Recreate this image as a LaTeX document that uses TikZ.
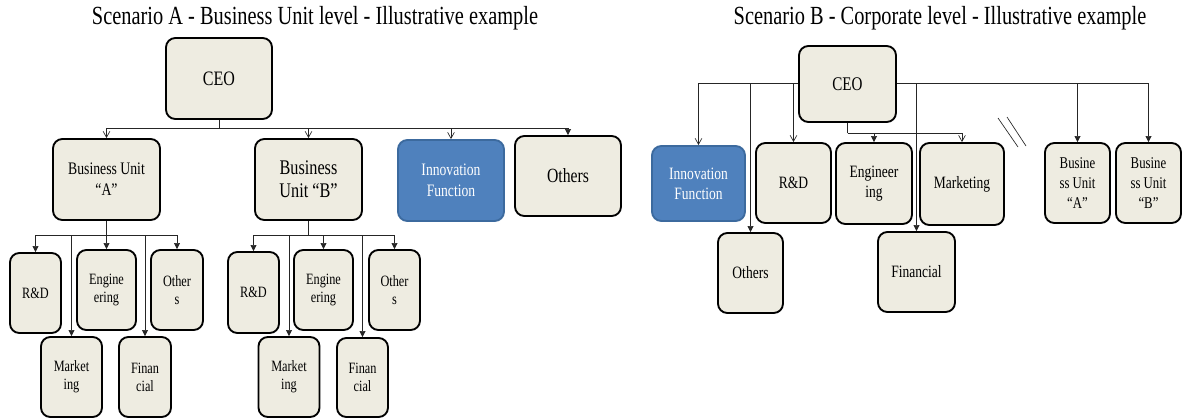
\documentclass[tikz,border=0pt]{standalone}
\usepackage{fontspec}
\setmainfont{Liberation Serif}[FakeStretch=0.78]
\usetikzlibrary{arrows.meta}
\definecolor{boxfill}{HTML}{EEECE1}
\definecolor{innofill}{HTML}{4F81BD}
\definecolor{innoline}{HTML}{3C6A9E}
\newcommand{\fsz}[2]{\fontsize{#1}{#2}\selectfont}

\begin{document}
\begin{tikzpicture}[x=0.75pt,y=-0.75pt,
    orgbox/.style={draw=black,line width=1.4pt,fill=boxfill,rounded corners=7pt,
      align=center,inner sep=0pt,text=black},
    innobox/.style={orgbox,draw=innoline,fill=innofill,text=white},
    sz/.style 2 args={minimum width=#1*0.75pt,minimum height=#2*0.75pt},
    small/.style={font=\fsz{11.8}{13.5}},
    mid/.style={font=\fsz{13}{15}},
    heading/.style={font=\fsz{19.6}{22}},
    link/.style={line width=0.5pt,draw=black!85},
    opentip/.style={link,-{Straight Barb[length=4.5pt,width=5pt]}},
    filltip/.style={link,-{Triangle[length=4.5pt,width=4.5pt]}}]
    \useasboundingbox (0,0) rectangle (1182,418);

    % Scenario A
    \node [heading] (titleA) at (315,18) {Scenario A - Business Unit level - Illustrative example};
    \node [orgbox,sz={106}{81},font=\fsz{15.4}{18}] (ceoA) at (219,78.5) {CEO};
    \node [orgbox,sz={107}{81},font=\fsz{13.2}{15.8}] (buA) at (106.5,179.5) {Business Unit\\``A''};
    \node [orgbox,sz={107}{81},font=\fsz{15.6}{17.5}] (buB) at (308.5,179.5) {Business\\Unit ``B''};
    \node [innobox,sz={106}{81},font=\fsz{13.1}{15.8}] (innA) at (451,180.5) {Innovation\\Function};
    \node [orgbox,sz={106}{80},font=\fsz{15.1}{18}] (othA) at (568,176) {Others};
    \coordinate (ceoAjoin) at (219,128);
    \draw [link] (ceoA) -- (ceoAjoin);
    \draw [opentip] (ceoAjoin) -| (buA);
    \draw [opentip] (ceoAjoin) -| (buB);
    \draw [opentip] (ceoAjoin) -| (innA);
    \draw [filltip] (ceoAjoin) -| (othA);

    % Business Unit A
    \node [orgbox,sz={51}{80},small] (rdA) at (35.5,293) {R\&D};
    \node [orgbox,sz={59}{80},small] (engA) at (106.5,290) {Engine\\ering};
    \node [orgbox,sz={52}{80},small] (othA2) at (177,290) {Other\\s};
    \node [orgbox,sz={61}{80},small] (mktA) at (71.5,377) {Market\\ing};
    \node [orgbox,sz={52}{80},small] (finA) at (145,377) {Finan\\cial};
    \coordinate (buAjoin) at (106.5,235);
    \draw [link] (buA) -- (buAjoin);
    \draw [filltip] (buAjoin) -| (rdA);
    \draw [filltip] (buAjoin) -- (engA);
    \draw [filltip] (buAjoin) -| (othA2);
    \draw [filltip] (buAjoin) -| (mktA);
    \draw [filltip] (buAjoin) -| (finA);

    % Business Unit B
    \node [orgbox,sz={51}{81},small] (rdB) at (253.5,292.5) {R\&D};
    \node [orgbox,sz={59}{80},small] (engB) at (323.5,290) {Engine\\ering};
    \node [orgbox,sz={51}{80},small] (othB2) at (394.5,290) {Other\\s};
    \node [orgbox,sz={61}{80},small] (mktB) at (289,377) {Market\\ing};
    \node [orgbox,sz={51}{79},small] (finB) at (362.5,377.5) {Finan\\cial};
    \coordinate (buBjoin) at (308.5,235);
    \draw [link] (buB) -- (buBjoin);
    \draw [filltip] (buBjoin) -| (rdB);
    \draw [filltip] (buBjoin) -| (engB);
    \draw [filltip] (buBjoin) -| (othB2);
    \draw [filltip] (buBjoin) -| (mktB);
    \draw [filltip] (buBjoin) -| (finB);

    % Scenario B
    \node [heading] (titleB) at (940,18) {Scenario B - Corporate level - Illustrative example};
    \node [orgbox,sz={97}{76},font=\fsz{14.5}{17}] (ceoB) at (847.5,84) {CEO};
    \node [innobox,sz={93}{75},mid] (innB) at (698.5,183.5) {Innovation\\Function};
    \node [orgbox,sz={65}{80},mid] (othB) at (750.5,273) {Others};
    \node [orgbox,sz={75}{80},mid] (rdB2) at (793.5,183) {R\&D};
    \node [orgbox,sz={76}{81},mid] (engB2) at (874,183.5) {Engineer\\ing};
    \node [orgbox,sz={77}{80},mid] (finB2) at (916.5,272) {Financial};
    \node [orgbox,sz={84}{82},mid] (mktB2) at (962,184) {Marketing};
    \node [orgbox,sz={65}{80},font=\fsz{12.3}{15}] (buAB) at (1077.5,183) {Busine\\ss Unit\\``A''};
    \node [orgbox,sz={65}{80},font=\fsz{12.3}{15}] (buBB) at (1148.5,183) {Busine\\ss Unit\\``B''};
    \coordinate (ceoBleft) at (ceoB.west |- 0,83);
    \coordinate (ceoBright) at (ceoB.east |- 0,83);
    \draw [opentip] (ceoBleft) -| (innB);
    \draw [filltip] (ceoBleft) -| (othB);
    \draw [opentip] (ceoBleft) -| (rdB2);
    \draw [filltip] (ceoBright) -| (finB2);
    \draw [filltip] (ceoBright) -| (buAB);
    \draw [filltip] (ceoBright) -| (buBB);
    \coordinate (ceoBjoin) at (847.5,133);
    \draw [link] (ceoB) -- (ceoBjoin);
    \draw [filltip] (ceoBjoin) -| (engB2);
    \draw [opentip] (ceoBjoin) -| (mktB2);
    \draw [link] (998,118) -- (1018,147);
    \draw [link] (1007,117) -- (1026,146);
\end{tikzpicture}
\end{document}
